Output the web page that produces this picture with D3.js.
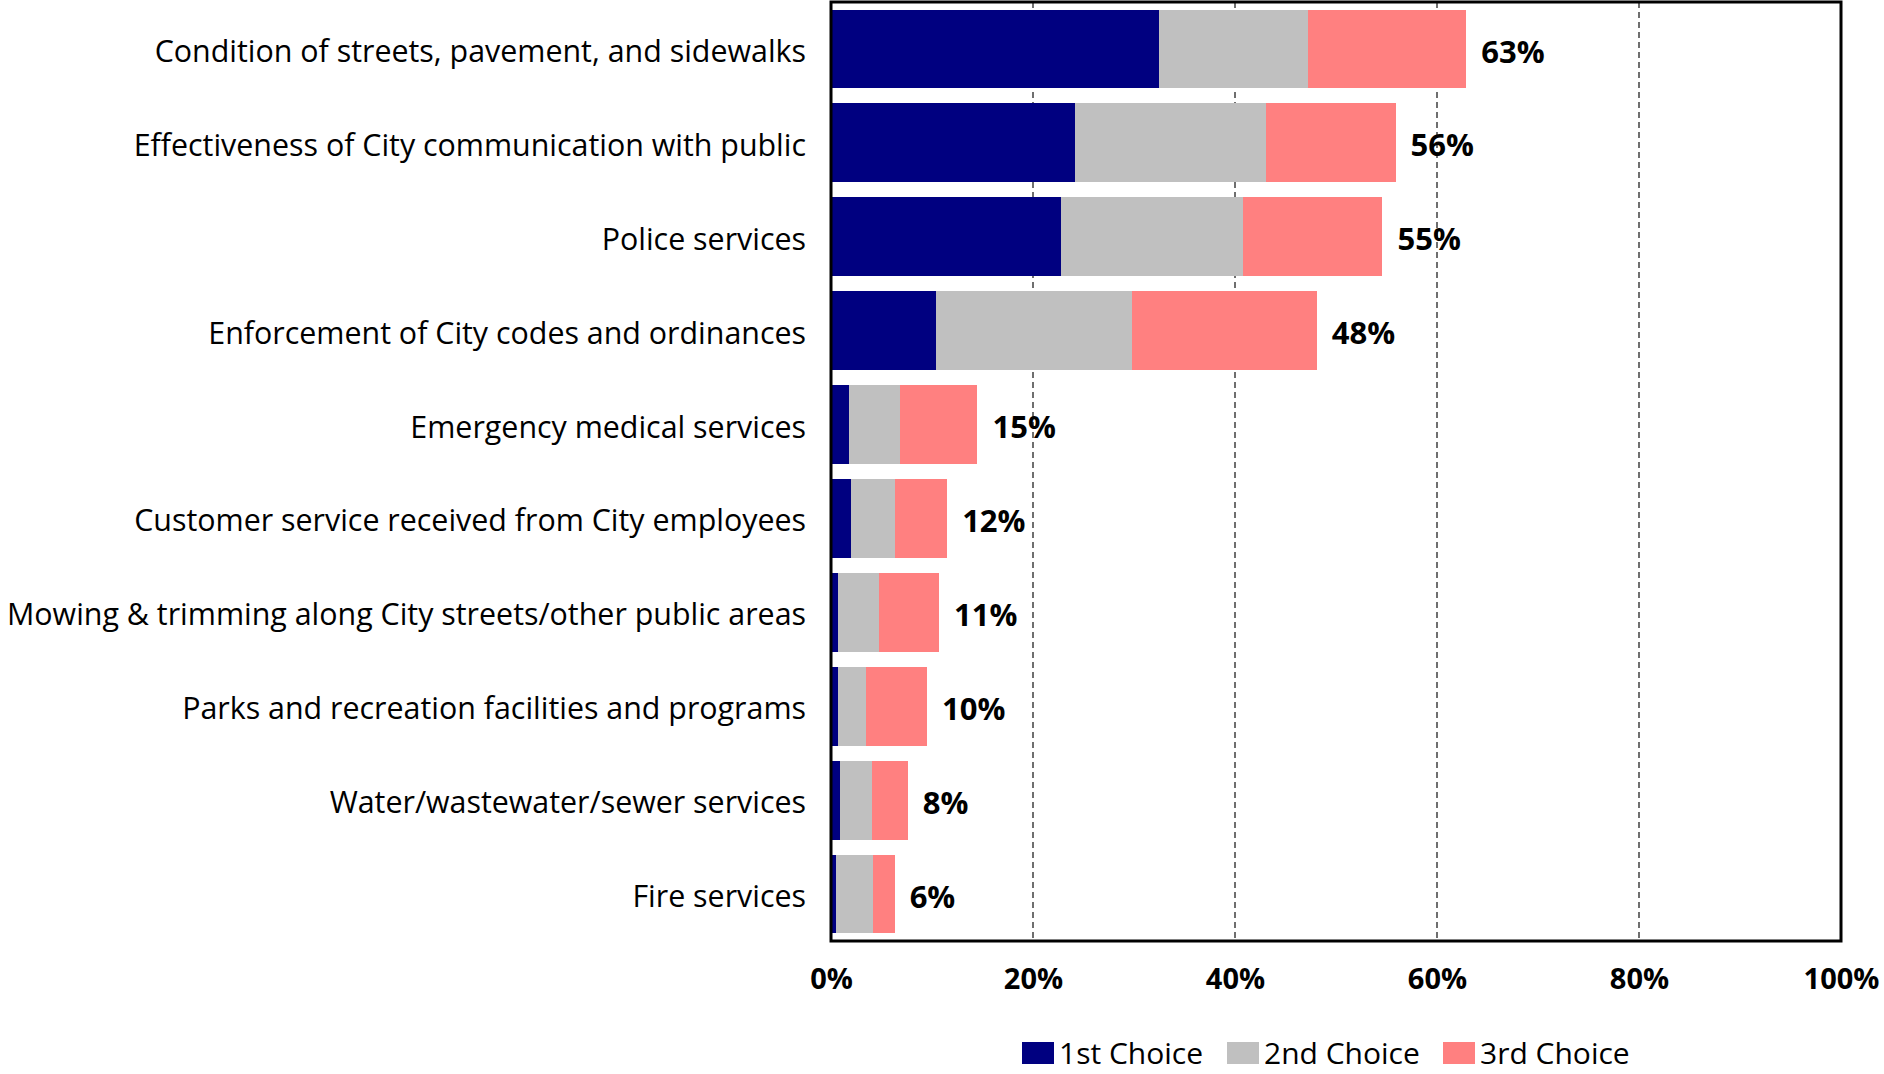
<!DOCTYPE html>
<html>
<head>
<meta charset="utf-8">
<script src="https://cdn.jsdelivr.net/npm/d3@7"></script>
<style>
  html, body { margin: 0; padding: 0; background: #fff; }
  svg { display: block; }
</style>
</head>
<body>
<svg id="chart" width="1884" height="1074"></svg>
<script>
const categories = [
  "Condition of streets, pavement, and sidewalks",
  "Effectiveness of City communication with public",
  "Police services",
  "Enforcement of City codes and ordinances",
  "Emergency medical services",
  "Customer service received from City employees",
  "Mowing & trimming along City streets/other public areas",
  "Parks and recreation facilities and programs",
  "Water/wastewater/sewer services",
  "Fire services"
];
const firstChoice  = [32.5, 24.2, 22.8, 10.4, 1.8, 2.0, 0.7, 0.7, 0.9, 0.5];
const secondChoice = [14.7, 18.9, 18.0, 19.4, 5.0, 4.3, 4.1, 2.8, 3.2, 3.7];
const thirdChoice  = [15.7, 12.8, 13.8, 18.3, 7.7, 5.2, 5.9, 6.0, 3.5, 2.1];
const totalLabels  = ["63%", "56%", "55%", "48%", "15%", "12%", "11%", "10%", "8%", "6%"];
const seriesNames  = ["1st Choice", "2nd Choice", "3rd Choice"];
const seriesColors = ["#000080", "#C0C0C0", "#FF8080"];
const xTicks       = [0, 20, 40, 60, 80, 100];

const svg = d3.select("#chart");
const plot = { left: 831, right: 1841, top: 2, bottom: 941 };
const labelFont = "'Open Sans', 'Noto Sans', sans-serif";

const x = d3.scaleLinear().domain([0, 100]).range([plot.left, plot.right]);
const y = d3.scaleBand().domain(categories).range([plot.top, plot.bottom])
  .paddingInner(0.16).paddingOuter(0.08);

const rows = categories.map((c, i) => ({
  cat: c, s0: firstChoice[i], s1: secondChoice[i], s2: thirdChoice[i], label: totalLabels[i]
}));
const stack = d3.stack().keys(["s0", "s1", "s2"]);
const stacked = stack(rows);

// gridlines
svg.append("g")
  .selectAll("line")
  .data(xTicks.filter(t => t > 0 && t < 100))
  .join("line")
  .attr("x1", d => x(d)).attr("x2", d => x(d))
  .attr("y1", plot.top).attr("y2", plot.bottom)
  .attr("stroke", "#404040").attr("stroke-width", 1.5)
  .attr("stroke-dasharray", "6,4");

// bars
svg.append("g")
  .selectAll("g")
  .data(stacked)
  .join("g")
  .attr("fill", (d, i) => seriesColors[i])
  .selectAll("rect")
  .data(d => d)
  .join("rect")
  .attr("x", d => x(d[0]))
  .attr("width", d => x(d[1]) - x(d[0]))
  .attr("y", d => y(d.data.cat))
  .attr("height", y.bandwidth())
  .attr("shape-rendering", "crispEdges");

// total labels
svg.append("g")
  .selectAll("text")
  .data(rows)
  .join("text")
  .attr("x", d => x(d.s0 + d.s1 + d.s2) + 15)
  .attr("y", d => y(d.cat) + y.bandwidth() / 2)
  .attr("dy", "0.44em")
  .attr("font-family", labelFont)
  .attr("font-weight", "bold")
  .attr("font-size", 31)
  .attr("fill", "#000")
  .text(d => d.label);

// plot border
svg.append("rect")
  .attr("x", plot.left).attr("y", plot.top)
  .attr("width", plot.right - plot.left).attr("height", plot.bottom - plot.top)
  .attr("fill", "none").attr("stroke", "#000").attr("stroke-width", 3);

// y axis labels
const yAxis = d3.axisLeft(y).tickSize(0).tickPadding(25);
const gy = svg.append("g").attr("transform", `translate(${plot.left},0)`).call(yAxis);
gy.select(".domain").remove();
gy.selectAll("text")
  .attr("dy", "0.42em")
  .attr("font-family", labelFont)
  .attr("font-size", 31)
  .attr("fill", "#000");
gy.selectAll("text").each(function() {
  const len = this.getComputedTextLength();
  d3.select(this).attr("textLength", len * 0.98).attr("lengthAdjust", "spacingAndGlyphs");
});

// x axis
const xAxis = d3.axisBottom(x).tickValues(xTicks).tickFormat(d => d + "%").tickSize(0).tickPadding(27);
const gx = svg.append("g").attr("transform", `translate(0,${plot.bottom})`).call(xAxis);
gx.select(".domain").remove();
gx.selectAll("text")
  .attr("font-family", labelFont)
  .attr("font-weight", "bold")
  .attr("font-size", 29)
  .attr("fill", "#000");

// legend
const legendX = [1022, 1227, 1443];
const legend = svg.append("g");
const items = legend.selectAll("g").data(seriesNames).join("g")
  .attr("transform", (d, i) => `translate(${legendX[i]},1042)`);
items.append("rect").attr("width", 32).attr("height", 22)
  .attr("fill", (d, i) => seriesColors[i]);
items.append("text").attr("x", 37).attr("y", 22)
  .attr("font-family", labelFont).attr("font-size", 30).attr("fill", "#000")
  .text(d => d);
</script>
</body>
</html>
